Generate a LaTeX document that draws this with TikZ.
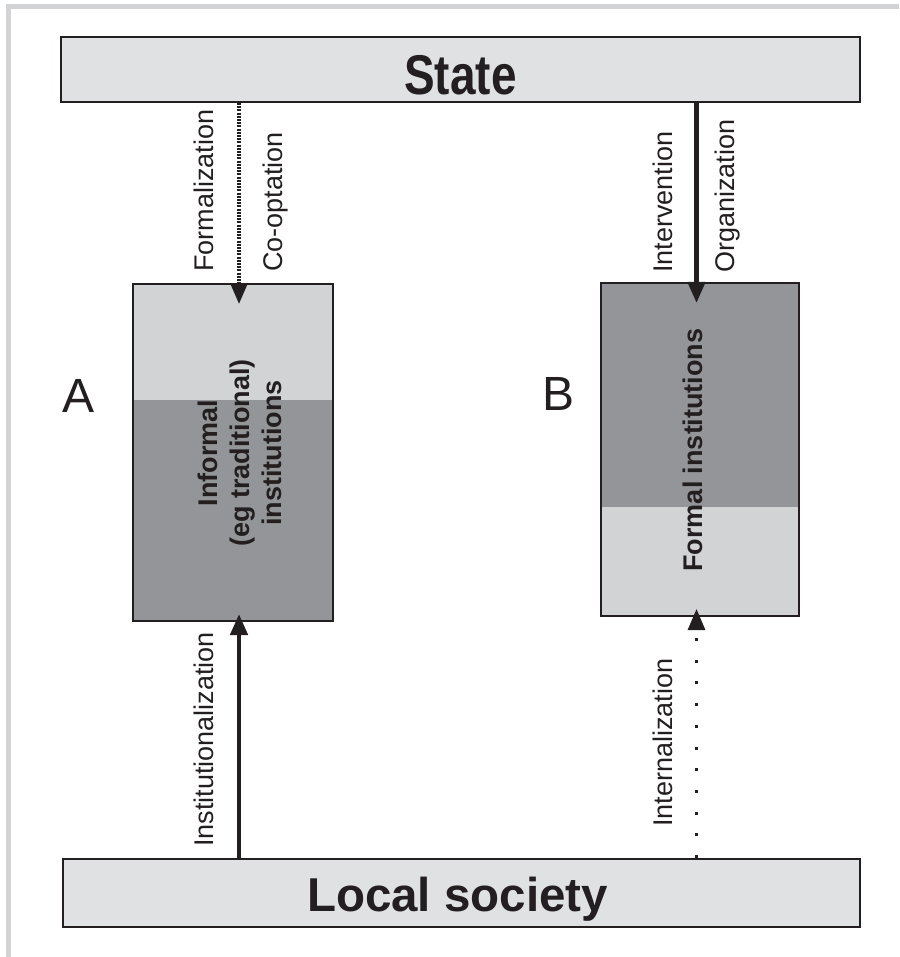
\documentclass[tikz,border=0pt]{standalone}
\usepackage{fontspec}
\setmainfont{Liberation Sans}
\newfontfamily\condfont[FakeStretch=0.82]{Liberation Sans}
\usetikzlibrary{arrows.meta, positioning, calc}

\definecolor{inkblack}{RGB}{35, 31, 32}
\definecolor{barfill}{RGB}{224, 225, 227}
\definecolor{boxlight}{RGB}{209, 211, 212}
\definecolor{boxdark}{RGB}{147, 149, 152}
\definecolor{framegray}{RGB}{209, 211, 212}

\begin{document}
\begin{tikzpicture}[
  x=1pt, y=-1pt,
  bar/.style={draw=inkblack, line width=2pt, fill=barfill, inner sep=0pt, text depth=0pt, text=inkblack},
  instbox/.style={draw=inkblack, line width=2pt, fill=boxdark, inner sep=0pt},
  insttext/.style={rotate=90, align=center, inner sep=0pt, font=\fontsize{27}{32}\selectfont\bfseries, text=inkblack},
  sidelabel/.style={rotate=90, anchor=base west, inner sep=0pt, font=\fontsize{27}{32}\selectfont, text=inkblack},
  caselabel/.style={anchor=base, inner sep=0pt, font=\fontsize{48}{48}\selectfont, text=inkblack},
  strongflow/.style={-{Triangle[length=21pt, width=17pt]}, draw=inkblack, line width=4.5pt},
  fineflow/.style={-{Triangle[length=21pt, width=17pt]}, draw=inkblack, line width=3.5pt, dash pattern=on 2pt off 1.2pt},
  weakflow/.style={-{Triangle[length=21pt, width=17pt]}, draw=inkblack, line width=3pt, dash pattern=on 3pt off 18.7pt}
]
  \useasboundingbox (0,0) rectangle (899,957);
  \draw[framegray, line width=5pt] (8.5,957) -- (8.5,7) -- (899,7);

  % the two levels
  \node[bar, minimum width=799pt, minimum height=65pt, text height=51pt,
        font=\condfont\fontsize{56}{56}\selectfont\bfseries] (state) at (460.5,69.5) {State};
  \node[bar, minimum width=797pt, minimum height=68pt, text height=36pt,
        font=\fontsize{47.5}{48}\selectfont\bfseries] (local) at (461.5,893) {\hspace*{-8pt}Local society};

  % institutions
  \node[instbox, minimum width=200pt, minimum height=337pt,
        path picture={\fill[boxlight] (path picture bounding box.north west) rectangle ([yshift=-116pt]path picture bounding box.north east);}] (boxA) at (233,452.5) {};
  \node[instbox, minimum width=198pt, minimum height=333pt,
        path picture={\fill[boxlight] (path picture bounding box.south west) rectangle ([yshift=109pt]path picture bounding box.south east);}] (boxB) at (700,449.5) {};
  \node[insttext] (txtA) at (240,453) {Informal\\(eg traditional)\\institutions};
  \node[insttext] (txtB) at (693,450) {Formal institutions};

  \node[caselabel] (caseA) at (78.5,412) {A};
  \node[caselabel] (caseB) at (558.5,410) {B};

  % flows
  \coordinate (colA) at (239,0);
  \coordinate (colB) at (696.5,0);
  \draw[fineflow, shorten >=-21pt] (state.south -| colA) -- (boxA.north -| colA);
  \draw[strongflow, shorten >=-21pt] (state.south -| colB) -- (boxB.north -| colB);
  \draw[strongflow, shorten >=-8pt] (local.north -| colA) -- (boxA.south -| colA);
  \draw[weakflow, shorten >=-8pt] (local.north -| colB) -- (boxB.south -| colB);

  \node[sidelabel] (formal) at (213,272) {Formalization};
  \node[sidelabel] (coopt) at (282,272) {Co-optation};
  \node[sidelabel] (interv) at (672,273) {Intervention};
  \node[sidelabel] (organ) at (734,273) {Organization};
  \node[sidelabel] (instit) at (213,847) {Institutionalization};
  \node[sidelabel] (intern) at (672,827) {Internalization};
\end{tikzpicture}
\end{document}
